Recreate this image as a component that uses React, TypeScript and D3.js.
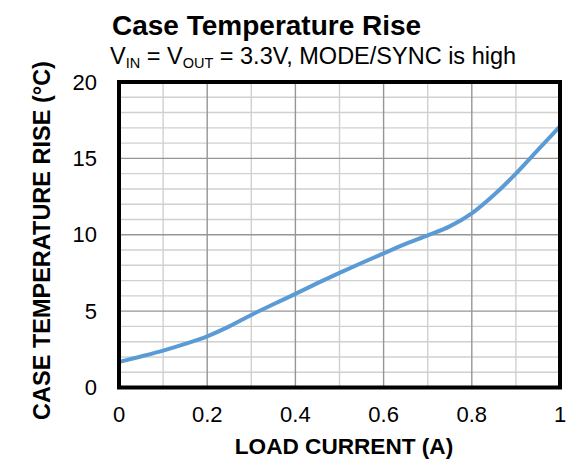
import React from "react";
import * as d3 from "d3";

const loadCurrent = [0, 0.05, 0.1, 0.15, 0.2, 0.25, 0.3, 0.35, 0.4, 0.45, 0.5, 0.55, 0.6, 0.65, 0.7, 0.75, 0.8, 0.85, 0.9, 0.95, 1.0];
const tempRise = [1.67, 2.03, 2.41, 2.85, 3.35, 4.0, 4.75, 5.45, 6.13, 6.83, 7.5, 8.15, 8.78, 9.4, 9.96, 10.55, 11.4, 12.6, 14.0, 15.55, 17.1];
const xTicks = [0, 0.2, 0.4, 0.6, 0.8, 1];
const xTickLabels = ["0", "0.2", "0.4", "0.6", "0.8", "1"];
const yTicks = [0, 5, 10, 15, 20];
const xMinor = [0.1, 0.3, 0.5, 0.7, 0.9];
const yMinor = [1, 2, 3, 4, 6, 7, 8, 9, 11, 12, 13, 14, 16, 17, 18, 19];

const W = 578;
const H = 462;
const M = { left: 119, right: 560, top: 82, bottom: 387.5 };
const FONT = "'Liberation Sans', Arial, sans-serif";

export default function App() {
  const x = d3.scaleLinear().domain([0, 1]).range([M.left, M.right]);
  const y = d3.scaleLinear().domain([0, 20]).range([M.bottom, M.top]);
  const pts: [number, number][] = loadCurrent.map((v, i) => [v, tempRise[i]]);
  const line = d3
    .line<[number, number]>()
    .x((d) => x(d[0]))
    .y((d) => y(d[1]))
    .curve(d3.curveMonotoneX);

  return (
    <svg width={W} height={H} style={{ position: "absolute", left: 0, top: 0, background: "#fff" }} fontFamily={FONT}>
      <rect x={0} y={0} width={W} height={H} fill="#fff" />
      {xMinor.map((v) => (
        <line key={"xm" + v} x1={x(v)} x2={x(v)} y1={M.top} y2={M.bottom} stroke="#d0d0d0" strokeWidth={1.4} />
      ))}
      {yMinor.map((v) => (
        <line key={"ym" + v} x1={M.left} x2={M.right} y1={y(v)} y2={y(v)} stroke="#d0d0d0" strokeWidth={1.4} />
      ))}
      {xTicks.map((v) => (
        <line key={"xM" + v} x1={x(v)} x2={x(v)} y1={M.top} y2={M.bottom} stroke="#969696" strokeWidth={1.4} />
      ))}
      {yTicks.map((v) => (
        <line key={"yM" + v} x1={M.left} x2={M.right} y1={y(v)} y2={y(v)} stroke="#969696" strokeWidth={1.4} />
      ))}
      <path d={line(pts) || ""} fill="none" stroke="#5B9BD5" strokeWidth={4} strokeLinecap="round" />
      <rect x={M.left} y={M.top} width={M.right - M.left} height={M.bottom - M.top} fill="none" stroke="#000" strokeWidth={4} />
      {xTicks.map((v, i) => (
        <text key={"xt" + v} x={x(v)} y={422} textAnchor="middle" fontSize={22} fill="#000">
          {xTickLabels[i]}
        </text>
      ))}
      {yTicks.map((v) => (
        <text key={"yt" + v} x={97} y={y(v)} textAnchor="end" dominantBaseline="central" fontSize={22} fill="#000">
          {v}
        </text>
      ))}
      <text x={344} y={454} textAnchor="middle" fontSize={22.6} fontWeight="bold" fill="#000">
        LOAD CURRENT (A)
      </text>
      <text transform={`translate(50,240.5) rotate(-90)`} textAnchor="middle" fontSize={23.5} fontWeight="bold" fill="#000">
        CASE TEMPERATURE RISE (°C)
      </text>
      <text x={112} y={35} fontSize={28} fontWeight="bold" fill="#000">
        Case Temperature Rise
      </text>
      <text x={110} y={64} fontSize={23.5} fill="#000">
        <tspan>V</tspan>
        <tspan fontSize={14.5} dy={4}>IN</tspan>
        <tspan dy={-4}> = V</tspan>
        <tspan fontSize={14.5} dy={4}>OUT</tspan>
        <tspan dy={-4}> = 3.3V, MODE/SYNC is high</tspan>
      </text>
    </svg>
  );
}
